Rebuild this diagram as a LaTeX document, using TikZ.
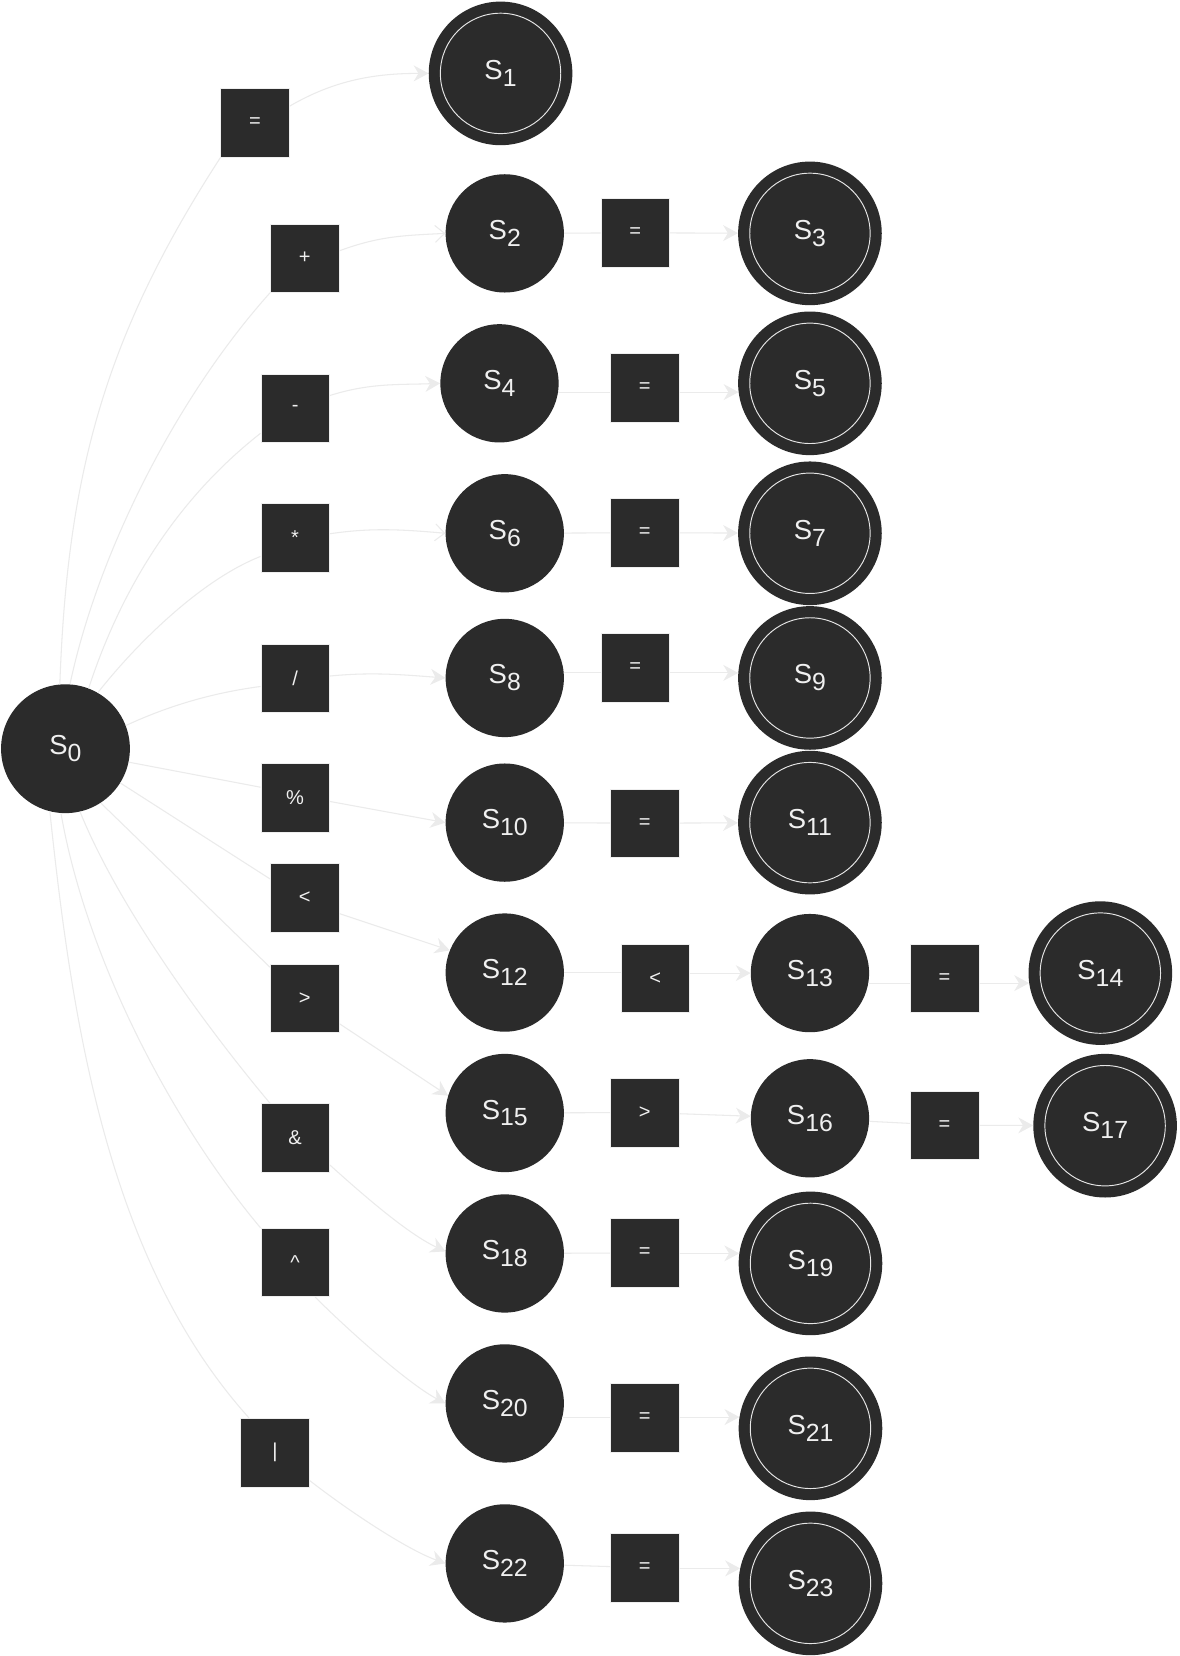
\documentclass[tikz,border=0pt]{standalone}
\usepackage{fontspec}
\setmainfont{Liberation Sans}
\usetikzlibrary{arrows.meta,calc}
\definecolor{nodefill}{HTML}{2B2B2B}
\definecolor{txt}{HTML}{F0F0F0}
\definecolor{edgecol}{HTML}{EBEBEB}
\definecolor{ringcol}{HTML}{E6E6E6}
\definecolor{boxedge}{HTML}{EEEEEE}
\newcommand\stlab[1]{S\raisebox{-6.5pt}{\fontsize{23.5}{23.5}\selectfont #1}}
\tikzset{
  st/.style={circle, fill=nodefill, minimum size=112pt, inner sep=0pt, text=txt, font=\fontsize{26}{26}\selectfont},
  st0/.style={st, minimum size=122pt},
  acc/.style={st, minimum size=136pt,
    path picture={\draw[ringcol, line width=0.9pt] (path picture bounding box.center) circle (57pt);}},
  sym/.style={rectangle, fill=nodefill, draw=boxedge, line width=0.6pt, minimum size=65pt, inner sep=0pt, text=txt, font=\fontsize{19}{19}\selectfont},
  edge/.style={draw=edgecol, line width=1pt},
  arr/.style={edge, -{Stealth[length=14pt,width=15pt,inset=4.5pt]}},
  arro/.style={edge, -{Straight Barb[length=9pt,width=16pt]}}
}
\begin{document}
\begin{tikzpicture}[x=1pt,y=1pt]
\fill[white] (0,0) rectangle (1116.5,-1568.2);
\useasboundingbox (0,0) rectangle (1116.5,-1568.2);

% states
\node[st0] (S0) at (62,-709) {\stlab{0}};
\node[acc] (S1) at (474,-69.5) {\stlab{1}};
\node[st]  (S2) at (478,-221) {\stlab{2}};
\node[acc] (S3) at (767,-221) {\stlab{3}};
\node[st]  (S4) at (473,-363) {\stlab{4}};
\node[acc] (S5) at (767,-363) {\stlab{5}};
\node[st]  (S6) at (478,-505) {\stlab{6}};
\node[acc] (S7) at (767,-505) {\stlab{7}};
\node[st]  (S8) at (478,-642) {\stlab{8}};
\node[acc] (S9) at (767,-642) {\stlab{9}};
\node[st]  (S10) at (478,-779) {\stlab{10}};
\node[acc] (S11) at (767,-779) {\stlab{11}};
\node[st]  (S12) at (478,-921) {\stlab{12}};
\node[st]  (S13) at (767,-921.5) {\stlab{13}};
\node[acc] (S14) at (1042,-921.5) {\stlab{14}};
\node[st]  (S15) at (478,-1054) {\stlab{15}};
\node[st]  (S16) at (767,-1059) {\stlab{16}};
\node[acc] (S17) at (1046.5,-1066) {\stlab{17}};
\node[st]  (S18) at (478,-1187) {\stlab{18}};
\node[acc] (S19) at (767.5,-1196.4) {\stlab{19}};
\node[st]  (S20) at (478,-1329) {\stlab{20}};
\node[acc] (S21) at (767.5,-1352.6) {\stlab{21}};
\node[st]  (S22) at (478,-1480.5) {\stlab{22}};
\node[acc] (S23) at (767.5,-1499.4) {\stlab{23}};

% first column symbol boxes
\node[sym] (b1)  at (241.5,-116.5) {=};
\node[sym] (b2)  at (288.5,-244.5) {+};
\node[sym] (b3)  at (279.5,-386.5) {-};
\node[sym] (b4)  at (279.5,-509.5) {*};
\node[sym] (b5)  at (279.5,-642.5) {/};
\node[sym] (b6)  at (279.5,-755.5) {\%};
\node[sym] (b7)  at (288.5,-850.5) {<};
\node[sym] (b8)  at (288.5,-945.5) {>};
\node[sym] (b9)  at (279.5,-1077.5) {\&};
\node[sym] (b10) at (279.5,-1195.5) {\^{}};
\node[sym] (b11) at (260.5,-1375.5) {|};

% row boxes
\node[sym] (b23)   at (601.5,-220.5) {=};
\node[sym] (b45)   at (610.5,-367.5) {=};
\node[sym] (b67)   at (610.5,-504.5) {=};
\node[sym] (b89)   at (601.5,-632.5) {=};
\node[sym] (b1011) at (610.5,-779.5) {=};
\node[sym] (b1213) at (620.5,-926.5) {<};
\node[sym] (b1314) at (894.5,-926.5) {=};
\node[sym] (b1516) at (610.5,-1053.5) {>};
\node[sym] (b1617) at (894.5,-1065.5) {=};
\node[sym] (b1819) at (610.5,-1186.5) {=};
\node[sym] (b2021) at (610.5,-1342.5) {=};
\node[sym] (b2223) at (610.5,-1484.5) {=};

% S0 to first column boxes
\draw[edge] (S0.95) .. controls +(7,200) and +(-109,-168) .. (b1.south west);
\draw[edge] (S0.86) .. controls +(27,127) and +(-87,-97) .. (b2.south west);
\draw[edge] (S0.69) .. controls +(31,95) and +(-79,-62) .. (b3.216);
\draw[edge] (S0.60) .. controls +(37,47) and +(-56,-22) .. (b4.208);
\draw[edge] (S0.21) .. controls +(41,19) and +(-45,-6) .. (b5.193);
\draw[edge] (S0.348) -- (b6.163);
\draw[edge] (S0.328) -- (b7.151);
\draw[edge] (S0.303) -- (b8.138);
\draw[edge] (S0.283) .. controls +(37.5,-92.7) and +(-57.9,68.9) .. (b9.126);
\draw[edge] (S0.266) .. controls +(24,-138) and +(-83.6,99.6) .. (b10.north west);
\draw[edge] (S0.256) .. controls +(21,-199) and +(-134,149) .. (b11.127);

% first column boxes to states
\draw[arr]  (b1.26) .. controls +(43,25) and +(-50,0) .. (S1.180);
\draw[arro] (b2.12) .. controls +(38,14) and +(-40,-2) .. (S2.180);
\draw[arr]  (b3.20) .. controls +(38,12) and +(-40,-1.5) .. (S4.180);
\draw[arro] (b4.7) .. controls +(40,6) and +(-40,3.5) .. (S6.180);
\draw[arr]  (b5.4) .. controls +(40,4) and +(-40,3) .. (S8.180);
\draw[arr]  (b6.354) -- (S10.180);
\draw[arr]  (b7.336) -- (S12.158);
\draw[arr]  (b8.324) -- (S15.163);
\draw[arr]  (b9.322) .. controls +(29.7,-26.8) and +(-36.3,16.9) .. (S18.178);
\draw[arr]  (b10.300) .. controls +(31.8,-31.8) and +(-35.3,18.8) .. (S20.180);
\draw[arr]  (b11.321) .. controls +(35.5,-27.7) and +(-37.6,13.7) .. (S22.180);

% rows
\draw[edge] (S2) -- (b23);
\draw[arr]  (b23) -- (S3);
\draw[edge] (S4.351) -- (S4.351 -| b45.west);
\draw[arr]  (b45.east |- S5.187) -- (S5.187);
\draw[edge] (S6) -- (b67);
\draw[arr]  (b67) -- (S7);
\draw[edge] (S8.5) -- (S8.5 -| b89.west);
\draw[arr]  (b89.east |- S9.176) -- (S9.176);
\draw[edge] (S10) -- (b1011);
\draw[arr]  (b1011) -- (S11);
\draw[edge] (S12.east) -- (S12.east -| b1213.west);
\draw[arr]  (b1213.east |- S13.west) -- (S13.west);
\draw[edge] (S13.350) -- (S13.350 -| b1314.west);
\draw[arr]  (b1314.east |- S14.188) -- (S14.188);
\draw[edge] (S15) -- (b1516);
\draw[arr]  (b1516) -- (S16);
\draw[edge] (S16) -- (b1617);
\draw[arr]  (b1617) -- (S17);
\draw[edge] (S18) -- (b1819);
\draw[arr]  (b1819.east |- S19.172) -- (S19.172);
\draw[edge] (S20.346) -- (S20.346 -| b2021.west);
\draw[arr]  (b2021.east |- S21.171) -- (S21.171);
\draw[edge] (S22) -- (b2223);
\draw[arr]  (b2223.east |- S23.168) -- (S23.168);
\end{tikzpicture}
\end{document}
